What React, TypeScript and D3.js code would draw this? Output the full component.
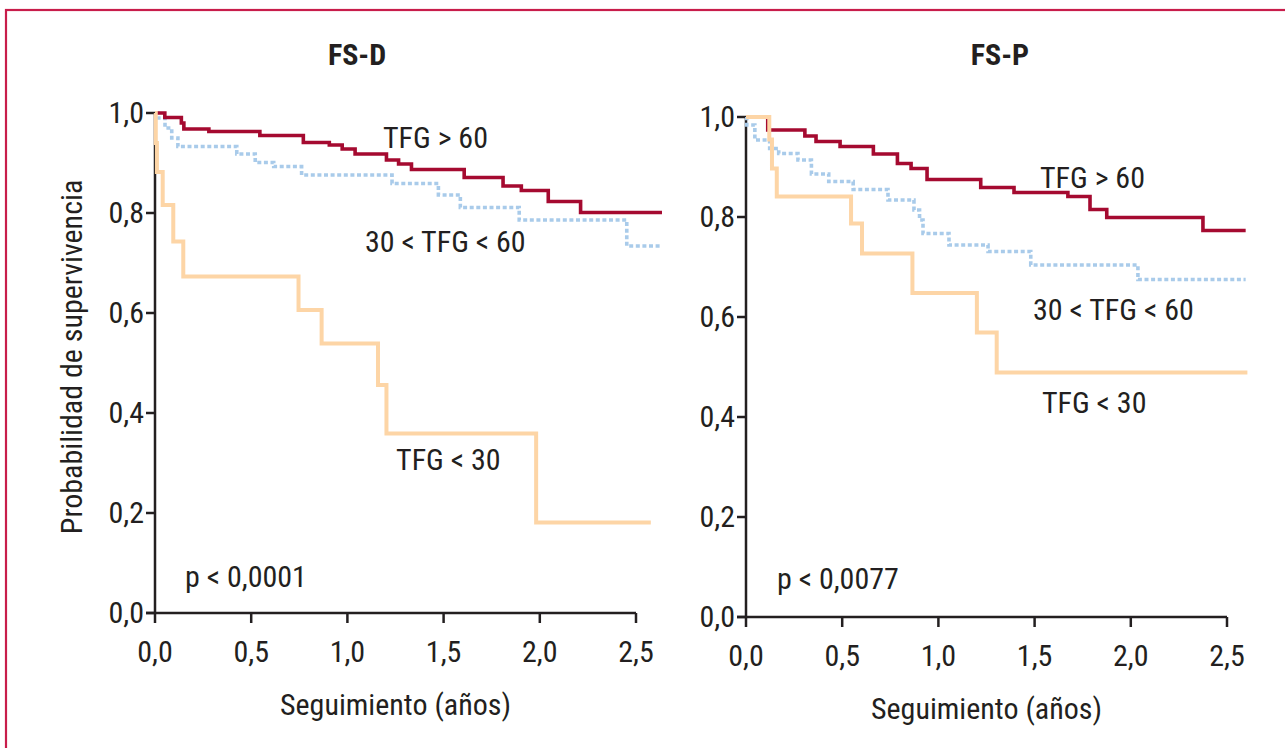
import React from "react";
import * as d3 from "d3";

// ---------- DATA ----------
const xTicks = [0, 0.5, 1.0, 1.5, 2.0, 2.5];
const yTicks = [0, 0.2, 0.4, 0.6, 0.8, 1.0];

// FS-D panel
const fsdGt60Time = [0, 0.051, 0.137, 0.15, 0.28, 0.545, 0.771, 0.906, 0.973, 1.04, 1.203, 1.266, 1.333, 1.607, 1.809, 1.904, 2.044, 2.212, 2.635];
const fsdGt60Surv = [1.0, 0.991, 0.98, 0.968, 0.963, 0.955, 0.941, 0.936, 0.928, 0.918, 0.906, 0.898, 0.887, 0.871, 0.854, 0.845, 0.823, 0.801, 0.801];

const fsdMidTime = [0, 0.016, 0.052, 0.087, 0.119, 0.425, 0.521, 0.617, 0.762, 1.232, 1.473, 1.587, 1.893, 2.452, 2.635];
const fsdMidSurv = [1.0, 0.99, 0.97, 0.95, 0.933, 0.918, 0.901, 0.893, 0.876, 0.859, 0.836, 0.811, 0.786, 0.734, 0.734];

const fsdLt30Time = [0, 0.004, 0.01, 0.04, 0.095, 0.147, 0.746, 0.866, 1.159, 1.203, 1.981, 2.577];
const fsdLt30Surv = [1.0, 0.94, 0.882, 0.816, 0.743, 0.673, 0.606, 0.539, 0.456, 0.359, 0.181, 0.181];

// FS-P panel
const fspGt60Time = [0, 0.113, 0.306, 0.364, 0.489, 0.662, 0.787, 0.858, 0.941, 1.22, 1.393, 1.673, 1.788, 1.875, 2.375, 2.597];
const fspGt60Surv = [1.0, 0.974, 0.962, 0.951, 0.941, 0.926, 0.907, 0.897, 0.875, 0.859, 0.849, 0.841, 0.815, 0.799, 0.773, 0.773];

const fspMidTime = [0, 0.004, 0.046, 0.123, 0.17, 0.27, 0.34, 0.43, 0.557, 0.738, 0.873, 0.902, 0.92, 1.055, 1.258, 1.48, 2.037, 2.597];
const fspMidSurv = [1.0, 0.984, 0.954, 0.937, 0.927, 0.914, 0.886, 0.871, 0.855, 0.834, 0.814, 0.794, 0.767, 0.744, 0.731, 0.704, 0.675, 0.675];

const fspLt30Time = [0, 0.121, 0.135, 0.16, 0.546, 0.603, 0.865, 1.2, 1.303, 2.606];
const fspLt30Surv = [1.0, 0.955, 0.897, 0.841, 0.787, 0.727, 0.648, 0.569, 0.489, 0.489];

const seriesNames = ["TFG > 60", "30 < TFG < 60", "TFG < 30"];
const panelTitles = ["FS-D", "FS-P"];
const pValues = ["p < 0,0001", "p < 0,0077"];
const yAxisTitle = "Probabilidad de supervivencia";
const xAxisTitle = "Seguimiento (años)";

// ---------- STYLE ----------
const FONT = "'Liberation Sans Narrow', 'Roboto Condensed', 'Arial Narrow', 'Liberation Sans', sans-serif";
const RED = "#a50a30";
const BLUE = "#a9cbea";
const ORANGE = "#fdd5a6";
const AXIS = "#231f20";
const FRAME = "#c81d4b";

type Series = { time: number[]; surv: number[]; color: string; dash?: string; width: number };
type Label = { text: string; t: number; s: number };

const fmt = (v: number) => d3.format(".1f")(v).replace(".", ",");

function Panel(props: {
  x: d3.ScaleLinear<number, number>;
  y: d3.ScaleLinear<number, number>;
  series: Series[];
  labels: Label[];
  title: string;
  titleX: number;
}) {
  const { x, y, series, labels, title, titleX } = props;
  const line = (s: Series) =>
    d3
      .line<number>()
      .x((_, i) => x(s.time[i]))
      .y((d) => y(d))
      .curve(d3.curveStepAfter)(s.surv) || "";
  const x0 = x(0);
  const y0 = y(0);
  return (
    <g>
      <text x={titleX} y={65} textAnchor="middle" fontFamily={FONT} fontWeight="bold" fontSize={30} fill={AXIS}>
        {title}
      </text>
      {/* axes */}
      <line x1={x0} x2={x0} y1={y(1)} y2={y0} stroke={AXIS} strokeWidth={2.5} />
      <line x1={x0 - 9} x2={x(2.5)} y1={y0} y2={y0} stroke={AXIS} strokeWidth={2.5} />
      {yTicks.map((v) => (
        <g key={"y" + v}>
          <line x1={x0 - 9} x2={x0} y1={y(v)} y2={y(v)} stroke={AXIS} strokeWidth={2.5} />
          <text x={x0 - 11} y={y(v) + 10} textAnchor="end" fontFamily={FONT} fontSize={30} fill={AXIS}>
            {fmt(v)}
          </text>
        </g>
      ))}
      {xTicks.map((v) => (
        <g key={"x" + v}>
          <line x1={x(v)} x2={x(v)} y1={y0} y2={y0 + 10} stroke={AXIS} strokeWidth={2.5} />
          <text x={x(v)} y={y0 + 49} textAnchor="middle" fontFamily={FONT} fontSize={30} fill={AXIS}>
            {fmt(v)}
          </text>
        </g>
      ))}
      <text x={(x(0) + x(2.5)) / 2} y={y0 + 102} textAnchor="middle" fontFamily={FONT} fontSize={30} fill={AXIS}>
        {xAxisTitle}
      </text>
      {/* curves */}
      {series.map((s, i) => (
        <path
          key={i}
          d={line(s)}
          fill="none"
          stroke={s.color}
          strokeWidth={s.width}
          strokeDasharray={s.dash}
          strokeLinejoin="miter"
        />
      ))}
      {labels.map((l, i) => (
        <text key={i} x={x(l.t)} y={y(l.s)} fontFamily={FONT} fontSize={30} fill={AXIS}>
          {l.text}
        </text>
      ))}
    </g>
  );
}

export default function App() {
  const leftX = d3.scaleLinear().domain([0, 2.5]).range([155, 636]);
  const leftY = d3.scaleLinear().domain([0, 1]).range([613, 113]);
  const rightX = d3.scaleLinear().domain([0, 2.5]).range([746, 1227]);
  const rightY = d3.scaleLinear().domain([0, 1]).range([617, 117]);

  const leftSeries: Series[] = [
    { time: fsdMidTime, surv: fsdMidSurv, color: BLUE, dash: "4,2.6", width: 3.6 },
    { time: fsdGt60Time, surv: fsdGt60Surv, color: RED, width: 3.6 },
    { time: fsdLt30Time, surv: fsdLt30Surv, color: ORANGE, width: 4 },
  ];
  const rightSeries: Series[] = [
    { time: fspMidTime, surv: fspMidSurv, color: BLUE, dash: "4,2.6", width: 3.6 },
    { time: fspGt60Time, surv: fspGt60Surv, color: RED, width: 3.6 },
    { time: fspLt30Time, surv: fspLt30Surv, color: ORANGE, width: 4 },
  ];
  const leftLabels: Label[] = [
    { text: seriesNames[0], t: 1.185, s: 0.93 },
    { text: seriesNames[1], t: 1.091, s: 0.722 },
    { text: seriesNames[2], t: 1.253, s: 0.286 },
    { text: pValues[0], t: 0.156, s: 0.052 },
  ];
  const rightLabels: Label[] = [
    { text: seriesNames[0], t: 1.528, s: 0.858 },
    { text: seriesNames[1], t: 1.492, s: 0.594 },
    { text: seriesNames[2], t: 1.538, s: 0.408 },
    { text: pValues[1], t: 0.161, s: 0.056 },
  ];

  return (
    <svg
      width={1285}
      height={748}
      style={{ position: "absolute", left: 0, top: 0, background: "#fff" }}
    >
      <rect x={6} y={10} width={1400} height={900} fill="#fff" stroke={FRAME} strokeWidth={2.2} />
      <text
        transform={`translate(82,357) rotate(-90)`}
        textAnchor="middle"
        fontFamily={FONT}
        fontSize={30}
        fill={AXIS}
      >
        {yAxisTitle}
      </text>
      <Panel x={leftX} y={leftY} series={leftSeries} labels={leftLabels} title={panelTitles[0]} titleX={357} />
      <Panel x={rightX} y={rightY} series={rightSeries} labels={rightLabels} title={panelTitles[1]} titleX={1000} />
    </svg>
  );
}
